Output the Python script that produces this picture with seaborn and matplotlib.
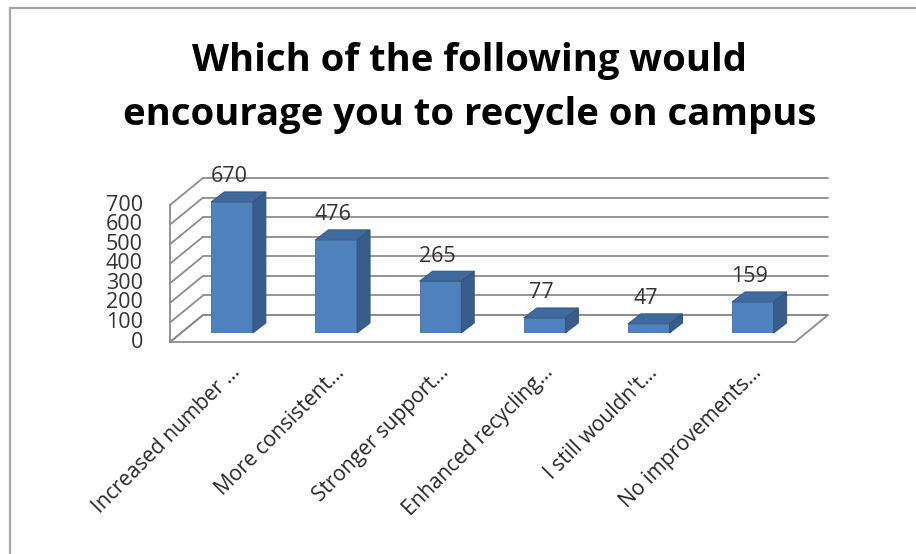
import numpy as np
import pandas as pd
import seaborn as sns
import matplotlib
matplotlib.use("Agg")
import matplotlib.pyplot as plt
from matplotlib.patches import Polygon, Rectangle

# Survey responses
categories = [
    "Increased number …",
    "More consistent…",
    "Stronger support…",
    "Enhanced recycling…",
    "I still wouldn't…",
    "No improvements…",
]
responses = [670, 476, 265, 77, 47, 159]
y_ticks = [0, 100, 200, 300, 400, 500, 600, 700]
title = "Which of the following would\nencourage you to recycle on campus"

sns.set_style("white")
plt.rcParams["font.family"] = ["Open Sans", "DejaVu Sans"]

W, H = 916, 554
fig = plt.figure(figsize=(W / 100, H / 100), dpi=100)
fig.patch.set_facecolor("white")

# axes = plane of the bar fronts
ax = fig.add_axes([180 / W, (H - 333) / H, 625 / W, 137 / H])
df = pd.DataFrame({"option": categories, "count": responses})
sns.barplot(data=df, x="option", y="count", color="#4F81BD", saturation=1,
            width=0.4, ax=ax, edgecolor="#3F6FA8", linewidth=0.6, zorder=3)
ax.set_xlim(-0.5, len(categories) - 0.5)
ax.set_ylim(0, 700)
ax.axis("off")

# pixel -> data conversion
p0 = ax.transData.transform((0, 0))
p1 = ax.transData.transform((1, 1))
sx, sy = p1[0] - p0[0], p1[1] - p0[1]


def off(px, py):
    return px / sx, py / sy


xl, xr = ax.get_xlim()
fdx, fdy = off(-10, -9)     # front edge of the floor / side wall
bdx, bdy = off(23, 18)      # back wall
gdx, gdy = off(13, 10)      # bar depth

grid_kw = dict(color="#8C8C8C", lw=1.3, clip_on=False, zorder=1)

# floor
floor = Polygon([(xl + fdx, fdy), (xr + fdx, fdy), (xr + bdx, bdy), (xl + bdx, bdy)],
                closed=True, facecolor="white", edgecolor="#8C8C8C", lw=1.3,
                clip_on=False, zorder=0.5)
ax.add_patch(floor)

# back wall gridlines and side wall diagonals
for v in y_ticks:
    ax.plot([xl + bdx, xr + bdx], [v + bdy, v + bdy], **grid_kw)
    ax.plot([xl + fdx, xl + bdx], [v + fdy, v + bdy], **grid_kw)
ax.plot([xl + fdx, xl + fdx], [fdy, y_ticks[-1] + fdy], **grid_kw)

# 3D faces for each bar
for bar in ax.patches:
    if not isinstance(bar, Rectangle) or bar.get_height() <= 0:
        continue
    x0, w, h = bar.get_x(), bar.get_width(), bar.get_height()
    side = Polygon([(x0 + w, 0), (x0 + w + gdx, gdy), (x0 + w + gdx, h + gdy), (x0 + w, h)],
                   closed=True, facecolor="#385D8A", edgecolor="#2F5078", lw=0.6,
                   clip_on=False, zorder=3)
    top = Polygon([(x0, h), (x0 + w, h), (x0 + w + gdx, h + gdy), (x0 + gdx, h + gdy)],
                  closed=True, facecolor="#3E6A9F", edgecolor="#2F5078", lw=0.6,
                  clip_on=False, zorder=3)
    ax.add_patch(side)
    ax.add_patch(top)

# value labels
_, ldy = off(0, 25)
ldx, _ = off(-3, 0)
for i, v in enumerate(responses):
    ax.text(i + ldx, v + ldy, str(v), ha="center", va="center", fontsize=15.5,
            color="#333333", zorder=5, clip_on=False)

# y tick labels at the front edge of the side wall
tdx, tdy = off(-37, -9)
for v in y_ticks:
    ax.text(xl + tdx, v + tdy, str(v), ha="right", va="center", fontsize=15.5,
            color="#333333", clip_on=False)

# category labels
cdx, cdy = off(-2, -29)
for i, c in enumerate(categories):
    ax.text(i + cdx, cdy, c, ha="right", va="top", rotation=45,
            rotation_mode="anchor", fontsize=15, color="#262626", clip_on=False)

fig.text(470 / W, 1 - 88 / H, title, ha="center", va="center", fontsize=27.5,
         fontweight="bold", color="black", linespacing=1.55)

# outer chart border
fig.add_artist(Rectangle((10 / W, -0.1), 1.2, (H - 8) / H + 0.1,
                         transform=fig.transFigure, fill=False,
                         edgecolor="#A6A6A6", lw=1.6))

fig.savefig("out.png", dpi=100, facecolor="white")
